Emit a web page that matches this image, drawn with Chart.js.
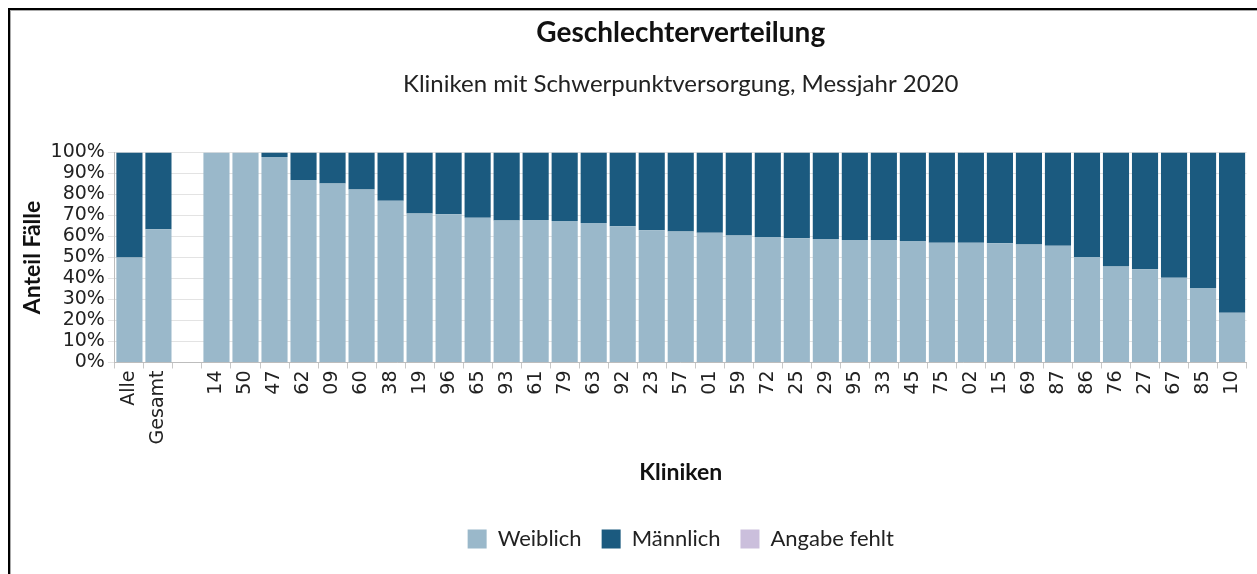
<!DOCTYPE html>
<html>
<head>
<meta charset="utf-8">
<script src="https://cdn.jsdelivr.net/npm/chart.js@4/dist/chart.umd.min.js"></script>
<style>
  html, body { margin: 0; padding: 0; background: #fff; }
  .frame {
    position: absolute; left: 8px; top: 8px; width: 1249px; height: 566px;
    border-top: 2px solid #000; border-left: 2px solid #000;
    box-shadow: inset 1px 1px 0 #aaa;
  }
  .frame canvas { position: absolute; left: 0; top: 0; }
</style>
</head>
<body>
<div class="frame"><canvas id="myChart" width="1247" height="564"></canvas></div>
<script>
// Kliniken (Reihenfolge wie im Bild), leere Kategorie als Trenner
var labels = ["Alle", "Gesamt", "", "14", "50", "47", "62", "09", "60", "38", "19", "96", "65", "93", "61", "79", "63", "92", "23", "57", "01", "59", "72", "25", "29", "95", "33", "45", "75", "02", "15", "69", "87", "86", "76", "27", "67", "85", "10"];

// Anteil weiblich in %
var weiblich = [50.0, 63.4, 0, 100, 100, 97.8, 86.9, 85.2, 82.3, 77.0, 70.9, 70.6, 68.9, 67.6, 67.8, 67.3, 66.4, 64.8, 62.9, 62.3, 61.8, 60.5, 59.7, 59.1, 58.8, 58.3, 58.3, 57.8, 57.0, 57.0, 56.7, 56.2, 55.6, 50.2, 45.7, 44.4, 40.3, 35.4, 23.7];
// Anteil maennlich in %
var maennlich = [50.0, 36.6, 0, 0, 0, 2.2, 13.1, 14.8, 17.7, 23.0, 29.1, 29.4, 31.1, 32.4, 32.2, 32.7, 33.6, 35.2, 37.1, 37.7, 38.2, 39.5, 40.3, 40.9, 41.2, 41.7, 41.7, 42.2, 43.0, 43.0, 43.3, 43.8, 44.4, 49.8, 54.3, 55.6, 59.7, 64.6, 76.3];
// Angabe fehlt
var fehlt = [0, 0, 0, 0, 0, 0, 0, 0, 0, 0, 0, 0, 0, 0, 0, 0, 0, 0, 0, 0, 0, 0, 0, 0, 0, 0, 0, 0, 0, 0, 0, 0, 0, 0, 0, 0, 0, 0, 0];

var yTicks = [0, 10, 20, 30, 40, 50, 60, 70, 80, 90, 100];

var colors = {
  weiblich: "#9ab8ca",
  maennlich: "#1b5a7f",
  fehlt: "#cbbfdc"
};

var textFont = "Lato, 'Open Sans', sans-serif";
var tickFont = "'DejaVu Sans', sans-serif";

let chart = document.getElementById("myChart").getContext("2d");

new Chart(chart, {
  type: "bar",
  data: {
    labels: labels,
    datasets: [
      { label: "Weiblich", data: weiblich, backgroundColor: colors.weiblich, borderWidth: 0 },
      { label: "Männlich", data: maennlich, backgroundColor: colors.maennlich, borderWidth: 0 },
      { label: "Angabe fehlt", data: fehlt, backgroundColor: colors.fehlt, borderWidth: 0 }
    ]
  },
  options: {
    responsive: false,
    animation: false,
    barPercentage: 0.9,
    categoryPercentage: 1.0,
    layout: { padding: { left: 9, right: 9, top: 0, bottom: 14 } },
    plugins: {
      tooltip: { enabled: false },
      title: {
        display: true,
        fullSize: false,
        text: "Geschlechterverteilung",
        color: "#111",
        font: { family: textFont, size: 28, weight: "bold" },
        padding: { top: 6, bottom: 20 }
      },
      subtitle: {
        display: true,
        fullSize: false,
        text: "Kliniken mit Schwerpunktversorgung, Messjahr 2020",
        color: "#222",
        font: { family: textFont, size: 24 },
        padding: { top: 0, bottom: 54 }
      },
      legend: {
        position: "bottom",
        fullSize: false,
        labels: {
          color: "#222",
          font: { family: textFont, size: 22 },
          boxWidth: 19,
          boxHeight: 19,
          padding: 20
        }
      }
    },
    scales: {
      x: {
        stacked: true,
        offset: true,
        grid: { display: true, drawOnChartArea: false, offset: true, color: "#c8c8c8", tickLength: 6 },
        border: { color: "#bdbdbd" },
        ticks: {
          color: "#222",
          font: { family: tickFont, size: 19 },
          minRotation: 90,
          maxRotation: 90,
          autoSkip: false,
          padding: 2
        },
        title: {
          display: true,
          text: "Kliniken",
          color: "#111",
          font: { family: textFont, size: 23, weight: "bold" },
          padding: { top: 12, bottom: 22 }
        }
      },
      y: {
        stacked: true,
        min: 0,
        max: 100,
        afterBuildTicks: function (axis) {
          axis.ticks = yTicks.map(function (v) { return { value: v }; });
        },
        grid: { color: "#e3e3e3", tickLength: 7 },
        border: { color: "#bdbdbd" },
        ticks: {
          color: "#222",
          font: { family: tickFont, size: 19 },
          padding: 3,
          autoSkip: false,
          callback: function (v) { return v + "%"; }
        },
        title: {
          display: true,
          text: "Anteil Fälle",
          color: "#111",
          font: { family: textFont, size: 23, weight: "bold" },
          padding: { top: 0, bottom: 1 }
        }
      }
    }
  }
});
</script>
</body>
</html>
